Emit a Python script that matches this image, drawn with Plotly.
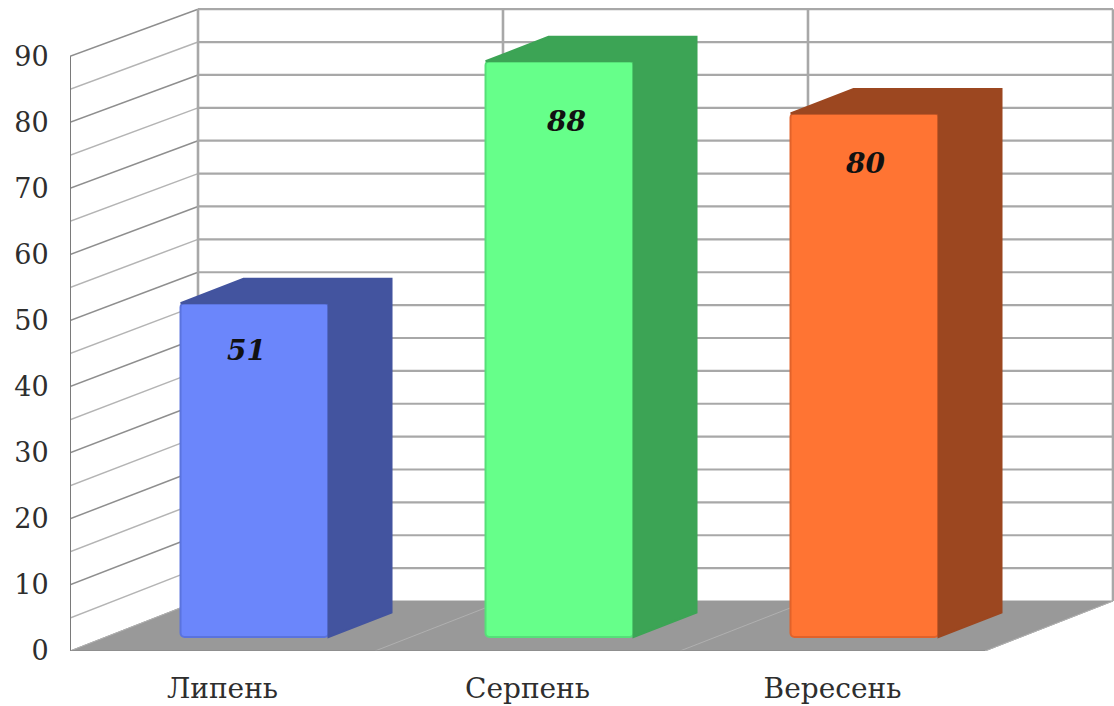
import plotly.graph_objects as go

categories = ["Липень", "Серпень", "Вересень"]
values = [51, 88, 80]
front_colors = ["#6B86FB", "#66FF8A", "#FF7433"]
edge_colors = ["#5A73DE", "#55E078", "#E2622A"]
side_colors = ["#43549F", "#3CA455", "#9C4720"]
y_ticks = list(range(0, 100, 10))
grid_values = list(range(0, 95, 5))
label_dx = [-8, 6, 0]
label_dy = [47, 60, 50]

# pseudo-3D projection, in axis units
WALL_DX, WALL_DY, WALL_K = 128 / 305, 7.56, 0.995
BAR_SHIFT, BAR_WIDTH, BAR_BASE, BAR_K = 0.105, 148 / 305, 2.12, 0.99
DEPTH_DX, DEPTH_DY = 63 / 305, 3.7
X0, X_END, FRONT_END = -0.5, 2.923, 2.5
GRID = "#A8A8A8"
GRID_DARK = "#8E8E8E"

shapes = []


def line(x0, y0, x1, y1, color=GRID, width=2.0):
    shapes.append(dict(type="line", xref="x", yref="y", x0=x0, y0=y0, x1=x1, y1=y1,
                       layer="below", line=dict(color=color, width=width)))


# floor
shapes.append(dict(type="path", xref="x", yref="y", layer="below",
                   path=f"M {X0} 0 L {X0 + WALL_DX} {WALL_DY} L {FRONT_END + WALL_DX} {WALL_DY} L {FRONT_END} 0 Z",
                   fillcolor="#999999", line=dict(color="#999999", width=1)))

# back wall and left side wall grid
for v in grid_values:
    yb = WALL_DY + WALL_K * v
    if v > 0:
        line(X0 + WALL_DX, yb, FRONT_END + WALL_DX, yb, GRID, 2.2)
        line(X0, v, X0 + WALL_DX, yb, GRID_DARK if v % 10 == 0 else "#B4B4B4", 1.5)
for k in range(4):
    line(X0 + k + WALL_DX, WALL_DY, X0 + k + WALL_DX, WALL_DY + WALL_K * 90, GRID, 2.6)
    line(X0 + k, 0, X0 + k + WALL_DX, WALL_DY, "#B0B0B0", 1)
line(X0, 0, X0, 90, "#7A7A7A", 2)
line(X0, 0, FRONT_END, 0, "#8C8C8C", 1.5)

fig = go.Figure()

centers = [i + BAR_SHIFT for i in range(len(values))]
fig.add_trace(go.Bar(
    x=centers,
    y=[v * BAR_K for v in values],
    base=BAR_BASE,
    width=BAR_WIDTH,
    marker=dict(color=front_colors, line=dict(color=edge_colors, width=2), cornerradius=4),
    hoverinfo="skip",
    showlegend=False,
))

for c, v, col in zip(centers, values, side_colors):
    left, right = c - BAR_WIDTH / 2, c + BAR_WIDTH / 2
    top = BAR_BASE + v * BAR_K
    fig.add_trace(go.Scatter(
        x=[left, left + DEPTH_DX, right + DEPTH_DX, right + DEPTH_DX, right, right, left],
        y=[top, top + DEPTH_DY, top + DEPTH_DY, BAR_BASE + DEPTH_DY, BAR_BASE, top, top],
        mode="lines", fill="toself", fillcolor=col,
        line=dict(color=col, width=2), hoverinfo="skip", showlegend=False,
    ))

annotations = [
    dict(x=c, y=BAR_BASE + v * BAR_K, xref="x", yref="y", text=f"<b><i>{v}</i></b>",
         showarrow=False, xshift=dx, yshift=-dy, xanchor="center", yanchor="middle",
         font=dict(family="DejaVu Serif", size=28, color="#111111"))
    for c, v, dx, dy in zip(centers, values, label_dx, label_dy)
]

fig.update_layout(
    width=1114, height=706, autosize=False,
    margin=dict(l=70, r=0, t=0, b=55),
    paper_bgcolor="white", plot_bgcolor="white",
    shapes=shapes, annotations=annotations, showlegend=False,
    xaxis=dict(range=[X0, X_END], tickmode="array", tickvals=list(range(len(categories))),
               ticktext=categories, showgrid=False, zeroline=False, showline=False,
               ticks="outside", ticklen=12, tickcolor="rgba(0,0,0,0)",
               tickfont=dict(family="DejaVu Serif", size=28, color="#2E2E2E")),
    yaxis=dict(range=[0, 98.5], tickmode="array", tickvals=y_ticks, showgrid=False,
               zeroline=False, showline=False, ticks="outside", ticklen=15,
               tickcolor="rgba(0,0,0,0)",
               tickfont=dict(family="DejaVu Serif", size=27, color="#2E2E2E")),
)

fig.write_html("out.html", config=dict(displayModeBar=False),
               post_script="document.body.style.margin='0';document.body.style.overflow='hidden';")
